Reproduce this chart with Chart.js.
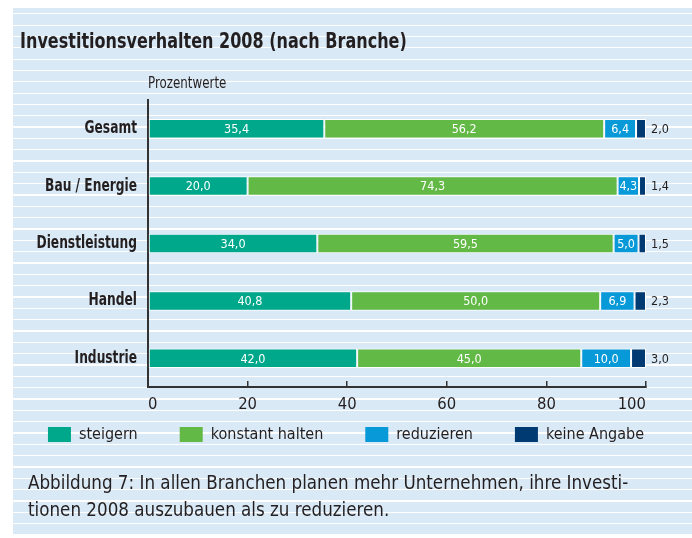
<!DOCTYPE html>
<html lang="de">
<head>
<meta charset="utf-8">
<title>Investitionsverhalten 2008 (nach Branche)</title>
<script src="https://cdn.jsdelivr.net/npm/chart.js@4"></script>
<style>
  html, body { margin: 0; padding: 0; background: #fff; }
  body {
    width: 692px; height: 538px; position: relative; overflow: hidden;
    font-family: 'DejaVu Sans Condensed', Roboto, sans-serif;
    color: #231f20;
  }
  /* light blue panel with thin white rules */
  #panel {
    position: absolute; left: 13px; top: 8px; width: 679px; height: 528px;
    background-color: #d9e9f6;
    background-image: repeating-linear-gradient(to bottom,
      transparent 0, transparent 5.2px, #fff 5.2px, #fff 6.5px, transparent 6.5px, transparent 11.33px);
  }
  .txt { position: absolute; white-space: pre; transform-origin: 0 0; }
  #title { left: 20px; top: 28px; font-size: 22px; font-weight: bold; transform: scaleX(0.81); }
  #unit { left: 148px; top: 74px; font-size: 15px; transform: scaleX(0.88); }
  .cap { left: 28px; font-size: 19px; line-height: 27px; transform: scaleX(0.98); }
  canvas { position: absolute; left: 0; top: 0; }
</style>
</head>
<body>
<div id="panel"></div>
<canvas id="chart" width="692" height="538"></canvas>
<div class="txt" id="title">Investitionsverhalten 2008 (nach Branche)</div>
<div class="txt" id="unit">Prozentwerte</div>
<div class="txt cap" style="top:469px">Abbildung 7: In allen Branchen planen mehr Unternehmen, ihre Investi&#8208;</div>
<div class="txt cap" style="top:496px">tionen 2008 auszubauen als zu reduzieren.</div>

<script>
const categories = ['Gesamt', 'Bau / Energie', 'Dienstleistung', 'Handel', 'Industrie'];
const steigern    = [35.4, 20.0, 34.0, 40.8, 42.0];
const konstant    = [56.2, 74.3, 59.5, 50.0, 45.0];
const reduzieren  = [6.4, 4.3, 5.0, 6.9, 10.0];
const keineAngabe = [2.0, 1.4, 1.5, 2.3, 3.0];
const seriesNames  = ['steigern', 'konstant halten', 'reduzieren', 'keine Angabe'];
const seriesColors = ['#00a88b', '#63b946', '#0799d8', '#003a72'];
const xTicks = [0, 20, 40, 60, 80, 100];

const FONT = "'DejaVu Sans Condensed', Roboto, sans-serif";
const INK = '#231f20';

const fmt = v => v.toFixed(1).replace('.', ',');

// the bold category names are set much narrower in the original:
// squeeze any bold canvas text horizontally around its anchor point
const condensedBold = {
  id: 'condensedBold',
  beforeInit(chart) {
    const ctx = chart.ctx;
    const fill = ctx.fillText.bind(ctx);
    ctx.fillText = (text, x, y, maxWidth) => {
      if (!/bold|700/.test(ctx.font)) return fill(text, x, y, maxWidth);
      ctx.save();
      ctx.translate(x, y);
      ctx.scale(0.8, 1);
      fill(text, 0, 0);
      ctx.restore();
    };
  }
};

// white numbers inside the bars, the last series printed to the right
const valueLabels = {
  id: 'valueLabels',
  afterDatasetsDraw(chart) {
    const ctx = chart.ctx;
    ctx.save();
    ctx.font = '12.5px ' + FONT;
    ctx.textBaseline = 'middle';
    chart.data.datasets.forEach((ds, i) => {
      chart.getDatasetMeta(i).data.forEach((bar, j) => {
        const txt = fmt(ds.data[j]);
        if (i === chart.data.datasets.length - 1) {
          ctx.fillStyle = INK;
          ctx.textAlign = 'left';
          ctx.fillText(txt, bar.x + 5, bar.y + 1);
        } else {
          ctx.fillStyle = '#fff';
          ctx.textAlign = 'center';
          ctx.fillText(txt, (bar.x + bar.base) / 2, bar.y + 1);
        }
      });
    });
    ctx.restore();
  }
};

// move the legend row up to where it sits in the original
const legendNudge = {
  id: 'legendNudge',
  afterLayout(chart) {
    const lg = chart.legend;
    const dy = 427 - (lg.top + lg.options.labels.padding + 0.5);
    lg.top += dy;
    lg.bottom += dy;
  }
};

const datasets = [steigern, konstant, reduzieren, keineAngabe].map((vals, i) => ({
  label: seriesNames[i],
  data: vals,
  backgroundColor: seriesColors[i],
  borderColor: '#fff',
  borderWidth: 1,
  borderSkipped: false,
  categoryPercentage: 1,
  barPercentage: 0.34
}));

new Chart(document.getElementById('chart'), {
  type: 'bar',
  data: { labels: categories, datasets },
  options: {
    indexAxis: 'y',
    responsive: false,
    animation: false,
    devicePixelRatio: 1,
    layout: { padding: { top: 100, bottom: 40, left: 0, right: 0 } },
    scales: {
      x: {
        stacked: true,
        min: 0, max: 100,
        afterBuildTicks(s) { s.ticks = xTicks.map(v => ({ value: v })); },
        afterFit(s) { s.height = Math.max(30, 538 - 40 - s.chart.legend.height - 387); },
        grid: { drawOnChartArea: false, drawTicks: true, tickLength: -6, color: '#333', lineWidth: 1.5 },
        border: { color: '#333', width: 2 },
        ticks: { align: 'inner', padding: 14, color: INK, font: { family: FONT, size: 16.5 } }
      },
      y: {
        stacked: true,
        afterFit(s) { s.width = 148; },
        grid: { display: false, drawTicks: false },
        border: { color: '#333', width: 2 },
        ticks: { padding: 11, color: INK, font: { family: FONT, size: 17, weight: 'bold' } }
      },
      // empty right-hand axis that only reserves the strip right of 100
      yRight: {
        type: 'linear', position: 'right', min: 0, max: 1,
        afterFit(s) { s.width = 46; },
        grid: { display: false, drawTicks: false },
        border: { display: false },
        ticks: { display: false }
      }
    },
    plugins: {
      legend: {
        position: 'bottom',
        align: 'center',
        labels: {
          boxWidth: 23, boxHeight: 15, padding: 42, color: INK,
          font: { family: FONT, size: 16 },
          generateLabels(chart) {
            return Chart.defaults.plugins.legend.labels.generateLabels(chart)
              .map(item => Object.assign(item, { lineWidth: 0, strokeStyle: 'rgba(0,0,0,0)' }));
          }
        }
      },
      tooltip: { enabled: false }
    }
  },
  plugins: [condensedBold, valueLabels, legendNudge]
});
</script>
</body>
</html>
